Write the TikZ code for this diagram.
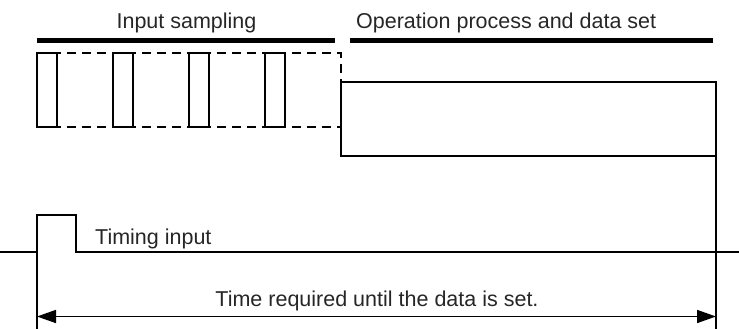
\documentclass[tikz,border=0pt]{standalone}
\usepackage{fontspec}
\setmainfont{Liberation Sans}
\usetikzlibrary{arrows.meta}

\begin{document}
\begin{tikzpicture}[x=1pt, y=-1pt, line join=miter, line cap=butt,
    lbl/.style={font=\fontsize{21.5}{25}\selectfont, text=black!85, inner sep=0pt},
    phasebar/.style={line width=5pt},
    sampbox/.style={line width=2.8pt, fill=white},
    dashline/.style={line width=2.6pt, dash pattern=on 9pt off 6pt},
    signal/.style={line width=2.4pt},
    marker/.style={line width=1.6pt}]
    \useasboundingbox (0,0) rectangle (739,329);

    % 处理阶段的粗横线及标题
    \coordinate (S1) at (37,40.5);
    \coordinate (S2) at (335,40.5);
    \coordinate (P1) at (350,40.5);
    \coordinate (P2) at (713,40.5);
    \draw[phasebar] (S1) -- (S2);
    \draw[phasebar] (P1) -- (P2);
    \node[lbl, anchor=base] (sampling) at (186.5,29) {Input sampling};
    \node[lbl, anchor=base west] (operation) at (356,29) {Operation process and data set};

    % 采样周期之间的虚线框
    \coordinate (D1) at (37,53);
    \coordinate (D2) at (341,53);
    \coordinate (D3) at (341,82);
    \coordinate (D4) at (37,127);
    \coordinate (D5) at (341,127);
    \draw[dashline] (D1) -- (D2) -- (D3);
    \draw[dashline] (D4) -- (D5);

    % 四次输入采样
    \foreach \x [count=\i] in {37,113,189,265}
        \draw[sampbox] (\x,53) rectangle ++(20,74);

    % 运算处理和数据设置
    \coordinate (B1) at (341,82);
    \coordinate (B2) at (716,156);
    \draw[sampbox] (B1) rectangle (B2);

    % 定时输入信号
    \coordinate (T0) at (0,252);
    \coordinate (T1) at (37,252);
    \coordinate (T2) at (37,215);
    \coordinate (T3) at (76,215);
    \coordinate (T4) at (76,252);
    \coordinate (T5) at (739,252);
    \draw[signal] (T0) -- (T1) -- (T2) -- (T3) -- (T4) -- (T5);
    \node[lbl, anchor=base west] (timing) at (95,244) {Timing input};

    % 所需时间的界线与双向箭头
    \coordinate (L1) at (37,215);
    \coordinate (L2) at (37,329);
    \coordinate (R1) at (716,156);
    \coordinate (R2) at (716,329);
    \draw[marker] (L1) -- (L2);
    \draw[marker] (R1) -- (R2);
    \coordinate (A1) at (37,316.5);
    \coordinate (A2) at (716,316.5);
    \draw[marker, {Triangle[length=19pt,width=13pt]}-{Triangle[length=19pt,width=13pt]}] (A1) -- (A2);
    \node[lbl, anchor=base] (required) at (377,306) {Time required until the data is set.};
\end{tikzpicture}
\end{document}
